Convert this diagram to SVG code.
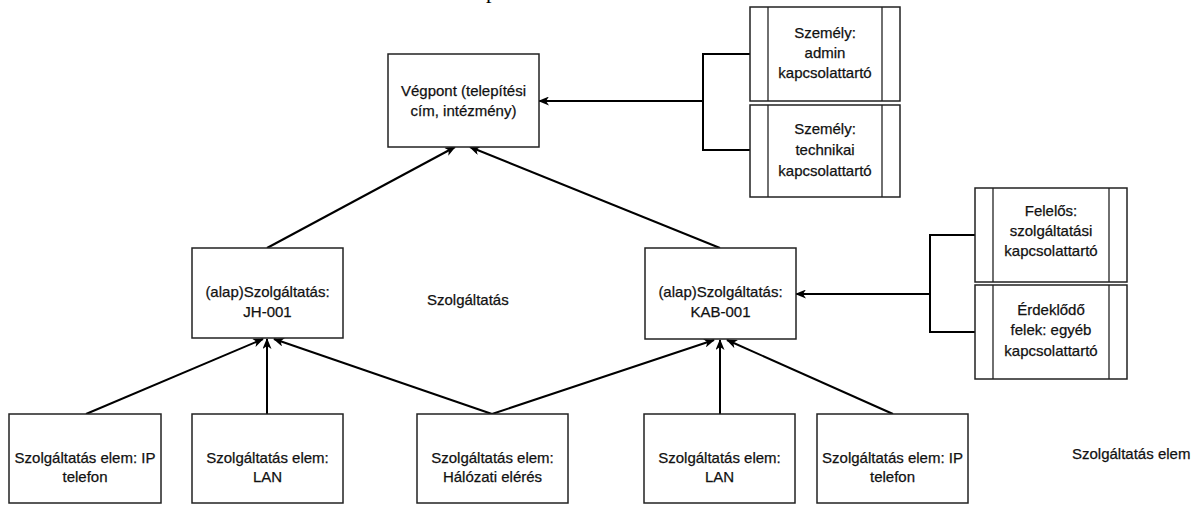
<svg xmlns="http://www.w3.org/2000/svg" width="1198" height="505" viewBox="0 0 1198 505">
<defs>
<marker id="arr" markerWidth="11" markerHeight="9" refX="10" refY="4.5" orient="auto" markerUnits="userSpaceOnUse">
<path d="M0,0 L11,4.5 L0,9 L3,4.5 z" fill="#000"/>
</marker>
<style>
.box{fill:#fff;stroke:#222;stroke-width:1.5}
.inner{stroke:#222;stroke-width:1.3;fill:none}
.t{font-family:"Liberation Sans",Arial,sans-serif;font-size:15px;fill:#111;stroke:#111;stroke-width:0.25;text-anchor:middle}
.lbl{font-family:"Liberation Sans",Arial,sans-serif;font-size:15px;fill:#111;stroke:#111;stroke-width:0.25}
.c{stroke:#000;stroke-width:2;fill:none}
.ca{stroke:#000;stroke-width:2;fill:none;marker-end:url(#arr)}
</style>
</defs>
<rect width="1198" height="505" fill="#fff"/>
<text x="486" y="-2" font-family="Liberation Serif,serif" font-size="22" fill="#000">p</text>

<g id="connectors">
<line class="ca" x1="86" y1="414" x2="263" y2="339"/>
<line class="ca" x1="267" y1="414" x2="267" y2="339"/>
<line class="ca" x1="492" y1="414" x2="274" y2="339"/>
<line class="ca" x1="492" y1="414" x2="714" y2="340"/>
<line class="ca" x1="720" y1="414" x2="720" y2="340"/>
<line class="ca" x1="893" y1="414" x2="727" y2="340"/>
<line class="ca" x1="267" y1="248" x2="455" y2="147"/>
<line class="ca" x1="720" y1="248" x2="470" y2="147"/>
<path class="c" d="M750,54 H703 V150 H750"/>
<line class="ca" x1="703" y1="101" x2="539" y2="101"/>
<path class="c" d="M975,235 H930 V332 H975"/>
<line class="ca" x1="930" y1="294" x2="796" y2="294"/>
</g>

<g id="vegpont">
<rect class="box" x="388" y="54" width="151" height="93"/>
<text class="t" x="463.5" y="96">Végpont (telepítési</text>
<text class="t" x="463.5" y="116">cím, intézmény)</text>
</g>

<g id="szemely-admin">
<rect class="box" x="750" y="7" width="150" height="94"/>
<line class="inner" x1="768" y1="7" x2="768" y2="101"/>
<line class="inner" x1="882" y1="7" x2="882" y2="101"/>
<text class="t" x="825" y="38">Személy:</text>
<text class="t" x="825" y="58">admin</text>
<text class="t" x="825" y="78">kapcsolattartó</text>
</g>

<g id="szemely-technikai">
<rect class="box" x="750" y="105" width="150" height="92"/>
<line class="inner" x1="768" y1="105" x2="768" y2="197"/>
<line class="inner" x1="882" y1="105" x2="882" y2="197"/>
<text class="t" x="825" y="134">Személy:</text>
<text class="t" x="825" y="155">technikai</text>
<text class="t" x="825" y="176">kapcsolattartó</text>
</g>

<g id="jh001">
<rect class="box" x="192" y="248" width="151" height="90"/>
<text class="t" x="267.5" y="297">(alap)Szolgáltatás:</text>
<text class="t" x="267.5" y="317">JH-001</text>
</g>

<g id="kab001">
<rect class="box" x="645" y="248" width="151" height="91"/>
<text class="t" x="720.5" y="297">(alap)Szolgáltatás:</text>
<text class="t" x="720.5" y="317">KAB-001</text>
</g>

<g id="label-szolgaltatas">
<text class="lbl" x="427" y="305">Szolgáltatás</text>
</g>

<g id="felelos">
<rect class="box" x="975" y="188" width="152" height="94"/>
<line class="inner" x1="993" y1="188" x2="993" y2="282"/>
<line class="inner" x1="1109" y1="188" x2="1109" y2="282"/>
<text class="t" x="1051" y="216">Felelős:</text>
<text class="t" x="1051" y="236">szolgáltatási</text>
<text class="t" x="1051" y="256">kapcsolattartó</text>
</g>

<g id="erdeklodo">
<rect class="box" x="975" y="285" width="152" height="94"/>
<line class="inner" x1="993" y1="285" x2="993" y2="379"/>
<line class="inner" x1="1109" y1="285" x2="1109" y2="379"/>
<text class="t" x="1051" y="315">Érdeklődő</text>
<text class="t" x="1051" y="335">felek: egyéb</text>
<text class="t" x="1051" y="356">kapcsolattartó</text>
</g>

<g id="elem-ip1">
<rect class="box" x="9" y="414" width="152" height="89"/>
<text class="t" x="85" y="463">Szolgáltatás elem: IP</text>
<text class="t" x="85" y="482">telefon</text>
</g>

<g id="elem-lan1">
<rect class="box" x="192" y="414" width="151" height="89"/>
<text class="t" x="267.5" y="463">Szolgáltatás elem:</text>
<text class="t" x="267.5" y="482">LAN</text>
</g>

<g id="elem-halozati">
<rect class="box" x="417" y="414" width="151" height="89"/>
<text class="t" x="492.5" y="463">Szolgáltatás elem:</text>
<text class="t" x="492.5" y="482">Hálózati elérés</text>
</g>

<g id="elem-lan2">
<rect class="box" x="644" y="414" width="151" height="89"/>
<text class="t" x="719.5" y="463">Szolgáltatás elem:</text>
<text class="t" x="719.5" y="482">LAN</text>
</g>

<g id="elem-ip2">
<rect class="box" x="817" y="414" width="151" height="89"/>
<text class="t" x="892.5" y="463">Szolgáltatás elem: IP</text>
<text class="t" x="892.5" y="482">telefon</text>
</g>

<g id="label-elem">
<text class="lbl" x="1072" y="459">Szolgáltatás elem</text>
</g>
</svg>
